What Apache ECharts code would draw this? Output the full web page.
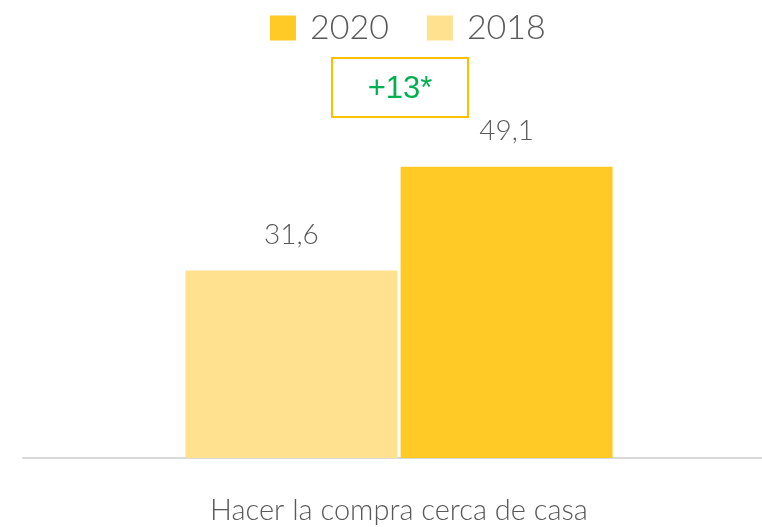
<!DOCTYPE html>
<html>
<head>
<meta charset="utf-8">
<script src="https://cdn.jsdelivr.net/npm/echarts@6/dist/echarts.min.js"></script>
<style>
  html, body { margin: 0; padding: 0; background: #ffffff; }
  #chart { width: 762px; height: 527px; }
</style>
</head>
<body>
<div id="chart"></div>
<script>
// Share of people who shop close to home, by survey year
const categories = ['Hacer la compra cerca de casa'];
const years = ['2018', '2020'];
const values2018 = [31.6];
const values2020 = [49.1];
const legendOrder = ['2020', '2018'];
const changeNote = '+13*';

const colors = { '2018': '#FFE18F', '2020': '#FFC926' };
const fontFamily = 'Lato, "Open Sans", sans-serif';

const fmt = v => String(v).replace('.', ',');

const chart = echarts.init(document.getElementById('chart'), null, { renderer: 'canvas' });

function barSeries(name, data) {
  return {
    name: name,
    type: 'bar',
    data: data,
    barWidth: 212,
    barGap: '1.5%',
    itemStyle: { color: colors[name] },
    label: {
      show: true,
      position: 'top',
      distance: 22,
      formatter: p => fmt(p.value),
      fontSize: 28,
      fontWeight: 300,
      fontFamily: fontFamily,
      color: '#595959'
    }
  };
}

chart.setOption({
  animation: false,
  backgroundColor: '#ffffff',
  legend: {
    data: legendOrder,
    left: 265,
    top: 6,
    itemWidth: 26,
    itemHeight: 25,
    itemGap: 38,
    icon: 'rect',
    textStyle: {
      fontSize: 34,
      fontWeight: 300,
      fontFamily: fontFamily,
      color: '#595959',
      padding: [0, 0, 0, 9]
    }
  },
  grid: { left: 23, top: 102, width: 752, height: 356, outerBoundsMode: 'none', containLabel: false },
  xAxis: {
    type: 'category',
    data: categories,
    axisLine: { show: true, lineStyle: { color: '#D9D9D9', width: 2 } },
    axisTick: { show: false },
    axisLabel: {
      margin: 38,
      fontSize: 29,
      fontWeight: 300,
      fontFamily: fontFamily,
      color: '#595959'
    }
  },
  yAxis: {
    type: 'value',
    min: 0,
    max: 60,
    show: false,
    splitLine: { show: false }
  },
  graphic: [{
    type: 'group',
    left: 331,
    top: 57,
    children: [
      {
        type: 'rect',
        shape: { x: 0, y: 0, width: 136, height: 59 },
        style: { fill: '#ffffff', stroke: '#FFC000', lineWidth: 2 }
      },
      {
        type: 'text',
        x: 68,
        y: 31,
        style: {
          text: changeNote,
          align: 'center',
          verticalAlign: 'middle',
          fontSize: 31,
          fontFamily: 'Arial, "Liberation Sans", sans-serif',
          fill: '#00B050'
        }
      }
    ]
  }],
  series: [
    barSeries(years[0], values2018),
    barSeries(years[1], values2020)
  ]
});
</script>
</body>
</html>
